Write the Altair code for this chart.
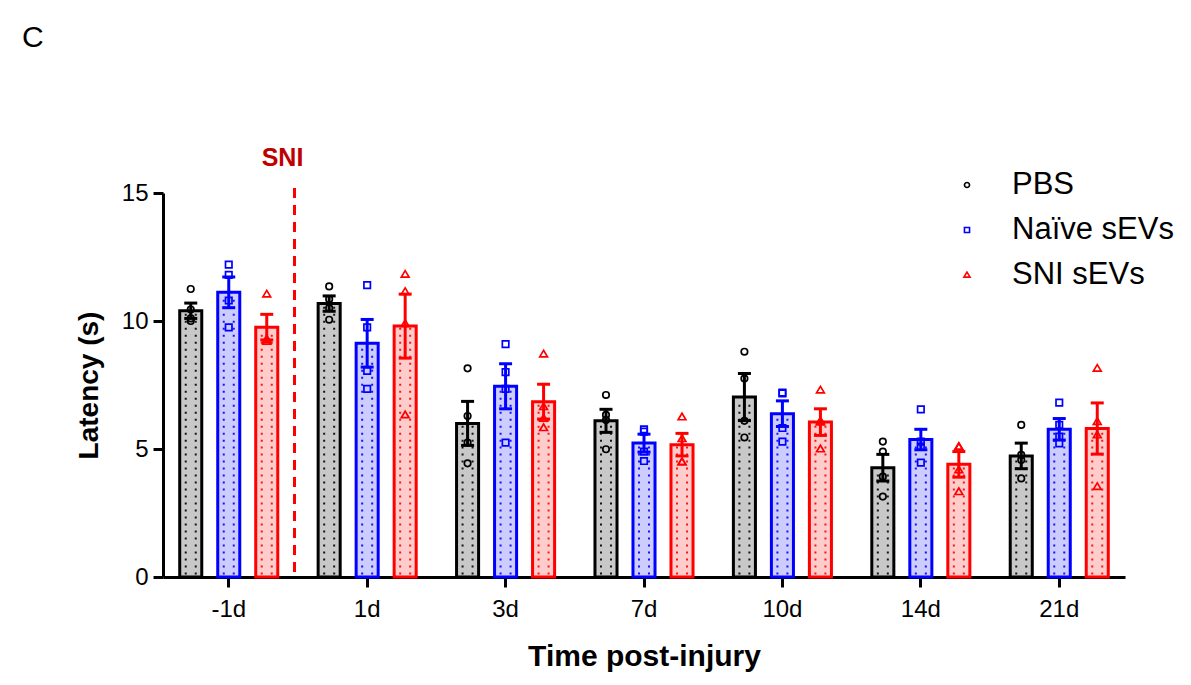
import altair as alt
import pandas as pd

times = ["-1d", "1d", "3d", "7d", "10d", "14d", "21d"]
groups = ["PBS", "Naïve sEVs", "SNI sEVs"]

pbs_mean = [10.4, 10.68, 6.0, 6.1, 7.03, 4.27, 4.73]
pbs_sem = [0.3, 0.3, 0.86, 0.45, 0.92, 0.52, 0.5]
naive_mean = [11.12, 9.13, 7.45, 5.23, 6.38, 5.37, 5.77]
naive_sem = [0.6, 0.93, 0.88, 0.35, 0.5, 0.4, 0.42]
sni_mean = [9.76, 9.8, 6.85, 5.17, 6.05, 4.4, 5.8]
sni_sem = [0.5, 1.25, 0.68, 0.44, 0.52, 0.5, 1.0]

pbs_pts = [[11.25, 10.45, 10.1, 10.0], [11.35, 10.85, 10.5, 10.05], [8.15, 6.29, 5.25, 4.44],
           [7.11, 6.33, 6.13, 4.99], [8.8, 7.75, 6.1, 5.45], [5.29, 4.9, 3.92, 3.14],
           [5.94, 4.77, 4.57, 3.85]]
naive_pts = [[12.2, 11.8, 10.8, 9.75], [11.4, 9.75, 8.05, 7.35], [9.1, 8.0, 7.35, 5.25],
             [5.68, 5.77, 4.53, 4.9], [7.17, 7.2, 5.29, 5.82], [6.55, 5.29, 5.09, 4.47],
             [6.81, 5.48, 5.22, 5.94]]
sni_pts = [[11.05, 9.25, 9.2, 9.3], [11.82, 11.15, 9.9, 6.33], [8.71, 6.65, 6.2, 5.83],
           [6.25, 5.4, 4.5, 4.5], [7.3, 6.1, 6.05, 5.0], [5.09, 5.09, 4.18, 3.33],
           [8.15, 6.07, 5.55, 3.53]]

stroke_colors = ["#000000", "#0000ff", "#ff0000"]
fill_colors = ["#c8c8c8", "#ccccff", "#ffcccc"]
shapes = ["circle", "square", "M0,-1.15L1.2,0.85H-1.2Z"]
FONT = "Liberation Sans"

means = [pbs_mean, naive_mean, sni_mean]
sems = [pbs_sem, naive_sem, sni_sem]
pts = [pbs_pts, naive_pts, sni_pts]

bar_rows = []
pt_rows = []
for gi, g in enumerate(groups):
    for ti, t in enumerate(times):
        bar_rows.append({"time": t, "group": g, "mean": means[gi][ti], "sem": sems[gi][ti]})
        for v in pts[gi][ti]:
            pt_rows.append({"time": t, "group": g, "value": v})
bar_df = pd.DataFrame(bar_rows)
pt_df = pd.DataFrame(pt_rows)
legend_df = pd.DataFrame({"group": groups})

x_enc = alt.X("time:N", sort=times,
              scale=alt.Scale(domain=times, paddingInner=0.05, paddingOuter=0),
              axis=alt.Axis(title="Time post-injury", labelAngle=0, tickSize=10, tickWidth=3,
                            tickColor="black", domainColor="black", domainWidth=3,
                            labelFontSize=24, labelColor="black", labelFont=FONT, labelPadding=10,
                            titleFont=FONT, titleFontSize=30, titleFontWeight="bold",
                            titleColor="black", titlePadding=20))
xo_enc = alt.XOffset("group:N", sort=groups,
                     scale=alt.Scale(domain=groups, paddingInner=0.42, paddingOuter=0.44))
y_scale = alt.Scale(domain=[0, 15], nice=False, zero=True)
y_axis = alt.Axis(title="Latency (s)", values=[0, 5, 10, 15], tickSize=10, tickWidth=3,
                  tickColor="black", domainColor="black", domainWidth=3, grid=False,
                  labelFontSize=24, labelColor="black", labelFont=FONT, labelPadding=5,
                  titleFont=FONT, titleFontSize=28, titleFontWeight="bold",
                  titleColor="black", titlePadding=18)
stroke_enc = alt.Stroke("g:N", scale=alt.Scale(domain=groups, range=stroke_colors), legend=None)
fill_enc = alt.Fill("g:N", scale=alt.Scale(domain=groups, range=fill_colors), legend=None)
color_enc = alt.Color("group:N", scale=alt.Scale(domain=groups, range=stroke_colors), legend=None)
shape_enc = alt.Shape("group:N", scale=alt.Scale(domain=groups, range=shapes), legend=None)

base = alt.Chart(bar_df).transform_calculate(g="datum.group")

bars = base.mark_bar(strokeWidth=3).encode(
    x=x_enc, xOffset=xo_enc,
    y=alt.Y("mean:Q", scale=y_scale, axis=y_axis),
    fill=fill_enc, stroke=stroke_enc,
)

# dotted texture inside the bars: two small dots per row
dot_pair = "M-1.2,0H-0.8M0.8,0H1.2"
dots = base.transform_calculate(
    row="sequence(0.14, datum.mean - 0.1, 0.273)"
).transform_flatten(["row"]).mark_point(
    shape=dot_pair, size=100, strokeWidth=2, filled=False, opacity=0.9
).encode(x=x_enc, xOffset=xo_enc, y=alt.Y("row:Q", scale=y_scale), stroke=stroke_enc)

err = base.transform_calculate(lo="datum.mean - datum.sem", hi="datum.mean + datum.sem")
err_rule = err.mark_rule(strokeWidth=3).encode(
    x=x_enc, xOffset=xo_enc, y=alt.Y("lo:Q", scale=y_scale), y2="hi:Q", stroke=stroke_enc)
cap_shape = "M-1,0H1"
cap_hi = err.mark_point(shape=cap_shape, size=169, strokeWidth=3, filled=False, opacity=1).encode(
    x=x_enc, xOffset=xo_enc, y=alt.Y("hi:Q", scale=y_scale), stroke=stroke_enc)
cap_lo = err.mark_point(shape=cap_shape, size=169, strokeWidth=3, filled=False, opacity=1).encode(
    x=x_enc, xOffset=xo_enc, y=alt.Y("lo:Q", scale=y_scale), stroke=stroke_enc)

points = alt.Chart(pt_df).mark_point(filled=False, size=42, strokeWidth=1.7, opacity=1).encode(
    x=x_enc, xOffset=xo_enc,
    y=alt.Y("value:Q", scale=y_scale),
    color=color_enc, shape=shape_enc,
)

marker_df = pd.DataFrame({"label": ["SNI"]})
sni_line = alt.Chart(marker_df).mark_rule(strokeDash=[10, 7], strokeWidth=3, color="#ff0000").encode(
    x=alt.XDatum("-1d", bandPosition=1),
    y=alt.YDatum(15.2), y2=alt.Y2Datum(0),
)
sni_text = alt.Chart(marker_df).mark_text(font=FONT, fontSize=25, fontWeight="bold",
                                          color="#c00000", baseline="alphabetic",
                                          align="center", dx=-12).encode(
    x=alt.XDatum("-1d", bandPosition=1), y=alt.value(-27), text="label:N")

panel_df = pd.DataFrame({"label": ["C"]})
panel = alt.Chart(panel_df).mark_text(font=FONT, fontSize=30, color="black", align="left",
                                      baseline="alphabetic").encode(
    x=alt.value(-141), y=alt.value(-146), text="label:N")

main = alt.layer(bars, dots, err_rule, cap_hi, cap_lo, points, sni_line, sni_text, panel)

# legend drawn as its own small layer (symbol column + label column)
leg_y = alt.Y("group:N", sort=groups, axis=None,
              scale=alt.Scale(domain=groups, range=[-8, 82], padding=0))
leg_sym = alt.Chart(legend_df).mark_point(filled=False, size=26, strokeWidth=1.6, opacity=1).encode(
    x=alt.value(804), y=leg_y, color=color_enc, shape=shape_enc)
leg_txt = alt.Chart(legend_df).mark_text(font=FONT, fontSize=31, color="black", align="left",
                                         baseline="middle").encode(
    x=alt.value(849), y=leg_y, text="group:N")
leg = alt.layer(leg_sym, leg_txt)

chart = alt.layer(main, leg).resolve_scale(y="independent").properties(
    width=962, height=384,
    autosize=alt.AutoSizeParams(type="none"),
    padding={"left": 163, "top": 193, "right": 66, "bottom": 108},
    background="white",
).configure_view(stroke=None)

chart.save("out.html", embed_options={"renderer": "svg", "actions": False})
